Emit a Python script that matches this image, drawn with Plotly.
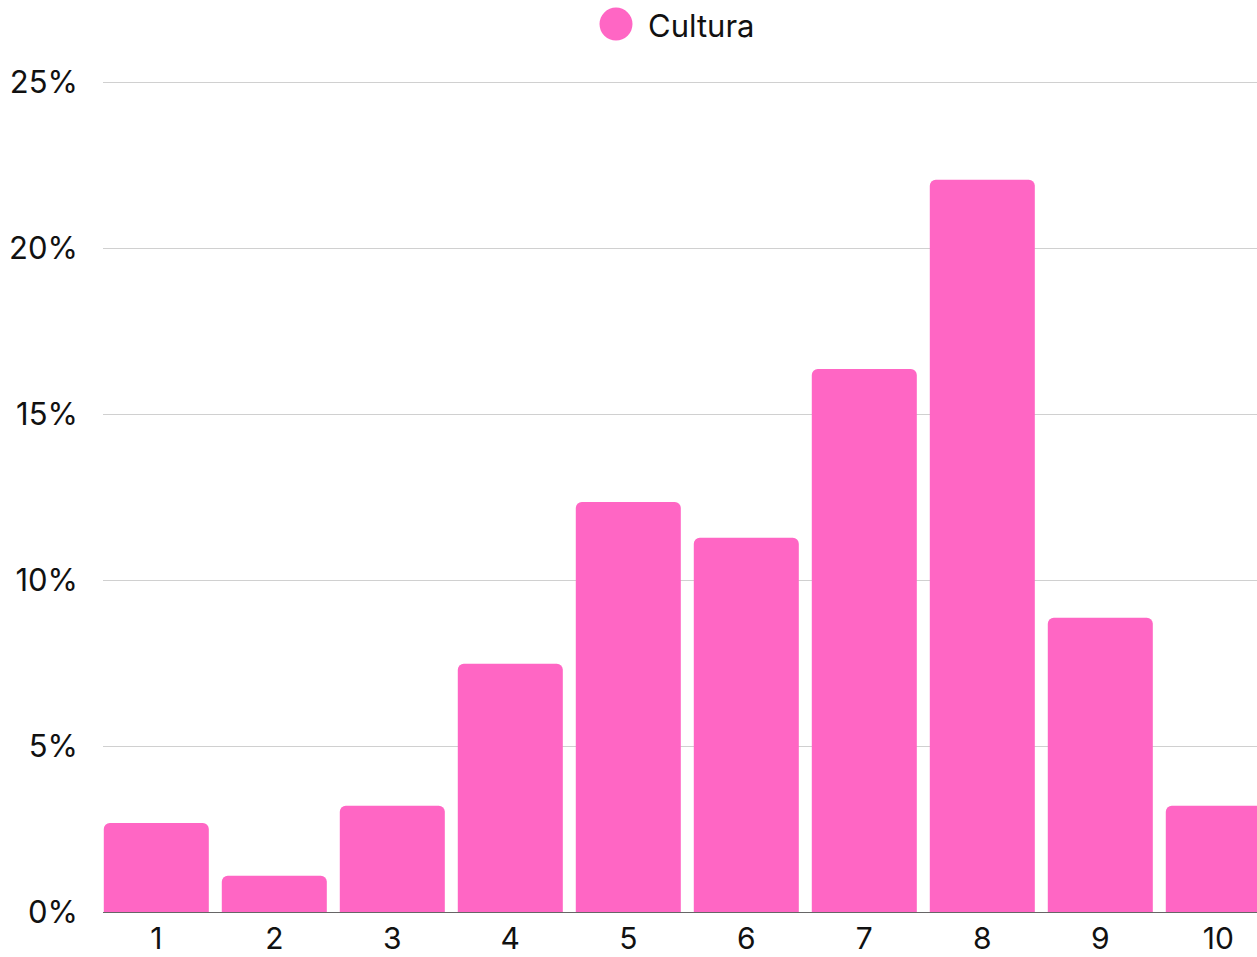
import plotly.graph_objects as go

categories = ["1", "2", "3", "4", "5", "6", "7", "8", "9", "10"]
values = [2.68, 1.09, 3.20, 7.48, 12.36, 11.28, 16.37, 22.07, 8.87, 3.20]
series_name = "Cultura"
y_ticks = [0, 5, 10, 15, 20, 25]
y_labels = ["0%", "5%", "10%", "15%", "20%", "25%"]

PINK = "#FF66C4"
FONT = "Inter, Lato, sans-serif"

L, R, T, B = 103, 0, 76.4, 45
W, H = 1257, 957
plot_w = W - L - R
plot_h = H - T - B

fig = go.Figure()
fig.add_trace(go.Bar(
    x=categories, y=values, name=series_name,
    marker=dict(color=PINK, cornerradius=6, line=dict(width=0)),
    showlegend=False,
))

# legend-like header: circle + label
cx_paper = (616 - L) / plot_w
cy_paper = 1 + (T - 24.5) / plot_h
ty_paper = 1 + (T - 26) / plot_h
fig.add_shape(type="circle", xref="paper", yref="paper",
              xsizemode="pixel", ysizemode="pixel",
              xanchor=cx_paper, yanchor=cy_paper,
              x0=-16.5, x1=16.5, y0=-16.5, y1=16.5,
              fillcolor=PINK, line=dict(width=0))
fig.add_annotation(text=series_name, xref="paper", yref="paper",
                   x=(647 - L) / plot_w, y=ty_paper, xanchor="left", yanchor="middle",
                   showarrow=False, borderpad=0,
                   font=dict(size=31, color="#111111", family=FONT))

fig.update_layout(
    width=W, height=H,
    margin=dict(l=L, r=R, t=T, b=B, autoexpand=False),
    paper_bgcolor="white", plot_bgcolor="white",
    bargap=0.11,
    showlegend=False,
    font=dict(family=FONT, size=30, color="#111111"),
    xaxis=dict(type="category", range=[-0.4517, 9.328], showgrid=False,
               showline=True, linecolor="#666666", linewidth=1,
               ticks="", tickfont=dict(size=30), automargin=False),
    yaxis=dict(range=[0, 25.2], tickvals=y_ticks, ticktext=y_labels,
               showgrid=True, gridcolor="#d0d0d0", gridwidth=1,
               zeroline=False, showline=False, ticks="",
               ticklabelstandoff=24, tickfont=dict(size=31), automargin=False),
)

fig.write_html("out.html",
               config={"displayModeBar": False},
               post_script="document.body.style.margin='0';document.body.style.overflow='hidden';")
